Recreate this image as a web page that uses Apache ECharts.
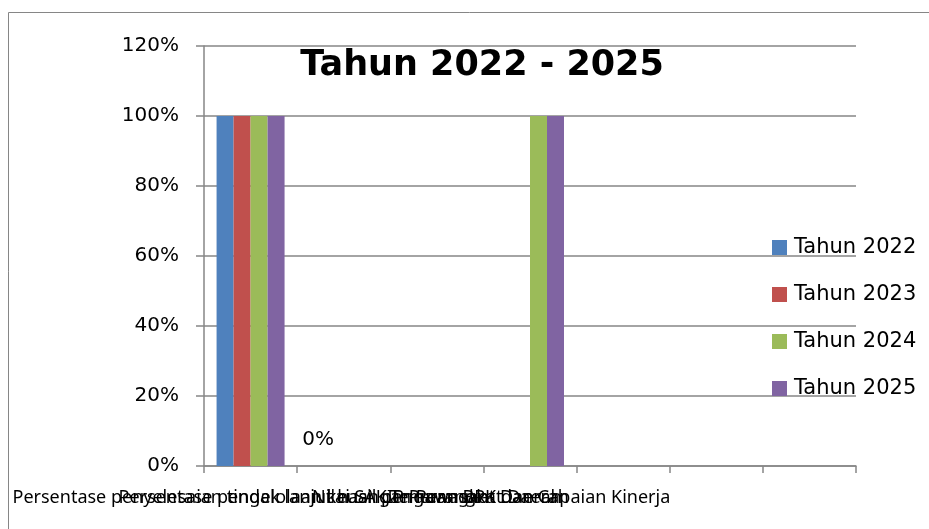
<!DOCTYPE html>
<html>
<head>
<meta charset="utf-8">
<script src="https://cdn.jsdelivr.net/npm/echarts@6/dist/echarts.min.js"></script>
<style>
html,body{margin:0;padding:0;background:#fff;}
#chart{width:929px;height:529px;}
</style>
</head>
<body>
<div id="chart"></div>
<script>
var categories = [
  "Persentase penyelesaian tindak lanjut hasil pengawasan",
  "Persentase pengelolaan keuangan Perangkat Daerah",
  "Nilai SAKIP Perangkat Daerah",
  "Temuan BPK dan Capaian Kinerja",
  "",
  "",
  ""
];
var seriesNames = ["Tahun 2022", "Tahun 2023", "Tahun 2024", "Tahun 2025"];
var tahun2022 = [1, 0, null, null, null, null, null];
var tahun2023 = [1, null, null, null, null, null, null];
var tahun2024 = [1, null, null, 1, null, null, null];
var tahun2025 = [1, null, null, 1, null, null, null];
var yTicks = [0, 0.2, 0.4, 0.6, 0.8, 1.0, 1.2];
var colors = ["#4F81BD", "#C0504D", "#9BBB59", "#8064A2"];
var labelled = {series: 0, index: 1};

var allData = [tahun2022, tahun2023, tahun2024, tahun2025];
var font = "'DejaVu Sans', sans-serif";
var xFont = "'Noto Sans', 'Open Sans', sans-serif";

var chart = echarts.init(document.getElementById('chart'), null, {renderer: 'canvas'});
var series = allData.map(function (arr, si) {
  return {
    name: seriesNames[si],
    type: 'bar',
    barWidth: 17,
    barGap: '0%',
    itemStyle: {color: colors[si]},
    data: arr.map(function (v, i) {
      var item = {value: v};
      if (si === labelled.series && i === labelled.index) {
        item.label = {
          show: true, position: 'top', distance: 16,
          formatter: function (p) { return Math.round(p.value * 100) + '%'; },
          fontSize: 20, color: '#000', fontFamily: font
        };
      }
      return item;
    })
  };
});

chart.setOption({
  animation: false,
  backgroundColor: '#fff',
  title: {
    text: 'Tahun 2022 - 2025',
    left: 477, top: 43, textAlign: 'center',
    textStyle: {fontSize: 35, fontWeight: 'bold', color: '#000', fontFamily: font}
  },
  graphic: [{
    type: 'rect', z: -10,
    shape: {x: 8.5, y: 12.5, width: 1000, height: 700},
    style: {fill: 'none', stroke: '#868686', lineWidth: 1}
  }],
  legend: {
    orient: 'vertical', left: 767, top: 232,
    itemWidth: 15, itemHeight: 15, itemGap: 26,
    icon: 'rect',
    textStyle: {fontSize: 21, color: '#000', fontFamily: font, padding: [0, 0, 0, 2]},
    data: seriesNames
  },
  grid: {left: 204, right: 73, top: 46, bottom: 63, containLabel: false},
  xAxis: {
    type: 'category',
    data: categories,
    boundaryGap: true,
    axisLine: {lineStyle: {color: '#868686', width: 1.5}},
    axisTick: {show: true, length: 7, lineStyle: {color: '#868686', width: 1.5}},
    axisLabel: {interval: 0, margin: 23, fontSize: 18, color: '#000', fontFamily: xFont, hideOverlap: false}
  },
  yAxis: {
    type: 'value',
    min: yTicks[0], max: yTicks[yTicks.length - 1], interval: 0.2,
    axisLine: {show: true, lineStyle: {color: '#868686', width: 1.5}},
    axisTick: {show: true, length: 8, lineStyle: {color: '#868686', width: 1.5}},
    splitLine: {lineStyle: {color: '#868686', width: 1.5}},
    axisLabel: {
      margin: 25, fontSize: 20, color: '#000', fontFamily: font,
      formatter: function (v) { return Math.round(v * 100) + '%'; }
    }
  },
  series: series
});
</script>
</body>
</html>
